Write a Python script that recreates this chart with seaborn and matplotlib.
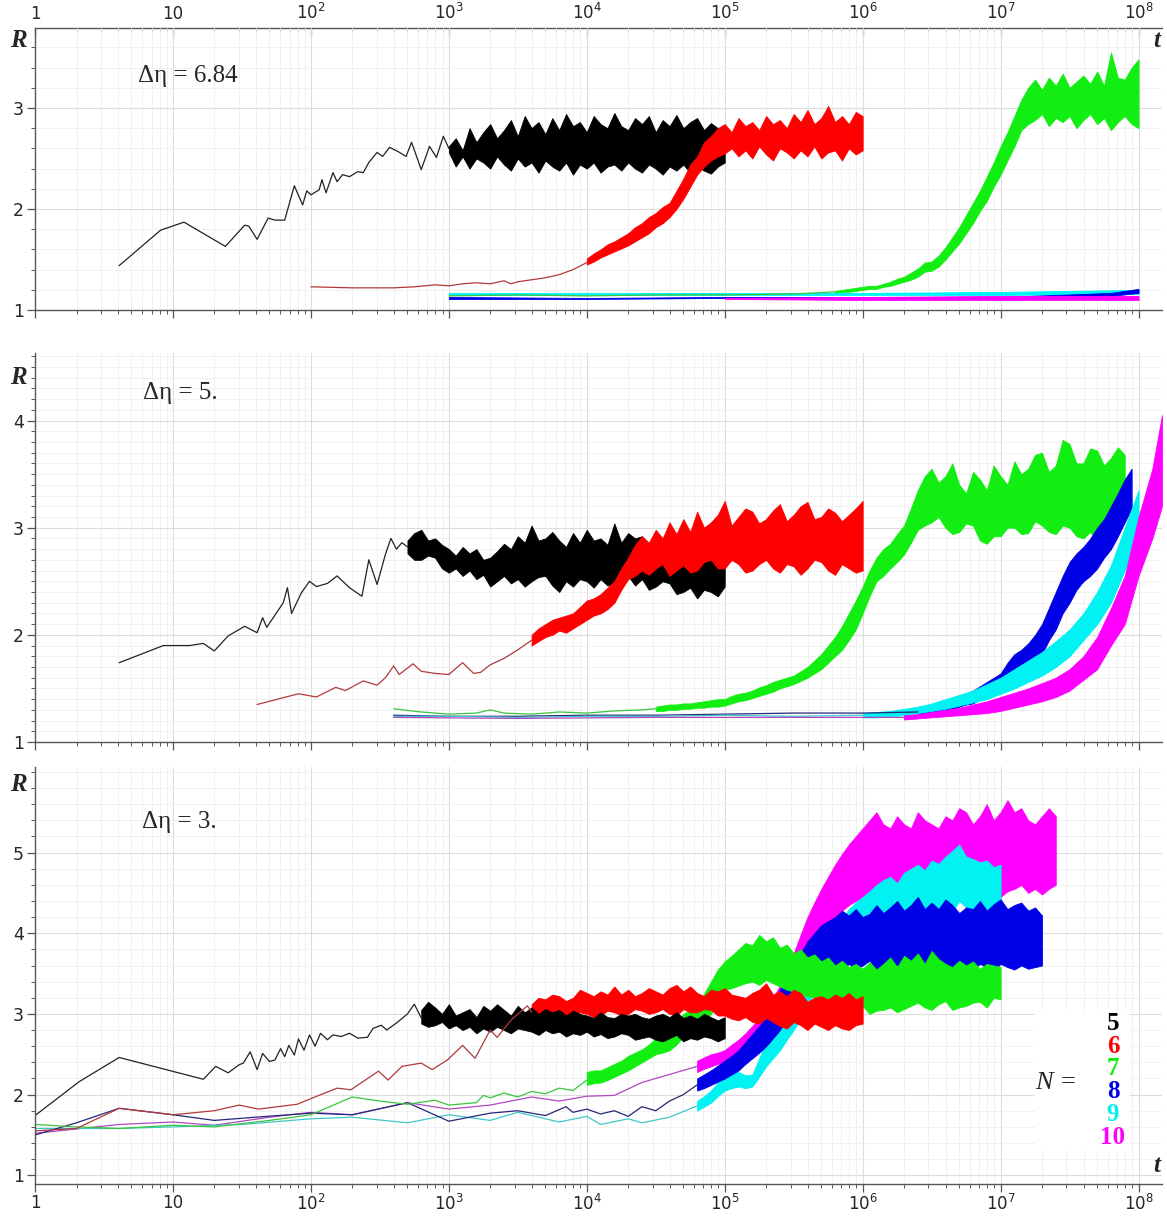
import numpy as np
import matplotlib.pyplot as plt
import seaborn as sns
from matplotlib.ticker import FixedLocator, MultipleLocator, FuncFormatter, NullFormatter
from matplotlib.patches import Rectangle

# -------------------------------------------------------------------
# Data: R(t) for N = 5..10, three values of delta-eta.
# Times are stored as log10(t). Early sparse parts are single lines,
# later noisy parts are stored as lower / upper envelopes.
# -------------------------------------------------------------------

# ---- panel 1 : delta eta = 6.84 ----
p1_black_line_lt = [0.61, 0.91, 1.08, 1.38, 1.52, 1.55, 1.61, 1.69, 1.74, 1.81, 1.88, 1.94, 1.97, 2.00,
                    2.06, 2.08, 2.11, 2.16, 2.19, 2.23, 2.28, 2.34, 2.38, 2.42, 2.48, 2.52, 2.57, 2.63,
                    2.69, 2.73, 2.80, 2.86, 2.91, 2.96, 3.00]
p1_black_line_r = [1.44, 1.79, 1.87, 1.63, 1.84, 1.83, 1.70, 1.91, 1.89, 1.89, 2.23, 2.04, 2.18, 2.14,
                   2.19, 2.29, 2.16, 2.36, 2.27, 2.34, 2.32, 2.37, 2.36, 2.46, 2.56, 2.52, 2.61, 2.57,
                   2.52, 2.66, 2.39, 2.62, 2.51, 2.72, 2.60]
p1_black_band_lt = [3.00, 3.05, 3.10, 3.15, 3.20, 3.25, 3.30, 3.35, 3.40, 3.45, 3.50, 3.55, 3.60, 3.65,
                    3.70, 3.75, 3.80, 3.85, 3.90, 3.95, 4.00, 4.05, 4.10, 4.15, 4.20, 4.25, 4.30, 4.35,
                    4.40, 4.45, 4.50, 4.55, 4.60, 4.65, 4.70, 4.75, 4.80, 4.85, 4.90, 4.95, 5.00]
p1_black_lo = [2.56, 2.42, 2.52, 2.40, 2.50, 2.46, 2.40, 2.52, 2.44, 2.38, 2.50, 2.42, 2.46, 2.36, 2.48,
               2.42, 2.38, 2.46, 2.34, 2.44, 2.40, 2.46, 2.36, 2.42, 2.44, 2.38, 2.46, 2.40, 2.36, 2.44,
               2.40, 2.34, 2.42, 2.38, 2.44, 2.36, 2.42, 2.38, 2.35, 2.42, 2.46]
p1_black_hi = [2.62, 2.70, 2.58, 2.80, 2.66, 2.76, 2.84, 2.70, 2.78, 2.88, 2.72, 2.92, 2.80, 2.86, 2.74,
               2.90, 2.78, 2.94, 2.82, 2.86, 2.76, 2.92, 2.84, 2.80, 2.95, 2.82, 2.78, 2.90, 2.84, 2.92,
               2.76, 2.88, 2.82, 2.93, 2.80, 2.86, 2.90, 2.78, 2.85, 2.80, 2.74]

p1_red_line_lt = [2.00, 2.30, 2.60, 2.75, 2.90, 3.00, 3.10, 3.20, 3.30, 3.40, 3.45, 3.50, 3.60, 3.70,
                  3.80, 3.90, 4.00]
p1_red_line_r = [1.23, 1.22, 1.22, 1.23, 1.25, 1.24, 1.26, 1.27, 1.26, 1.29, 1.26, 1.28, 1.30, 1.32,
                 1.35, 1.40, 1.47]
p1_red_band_lt = [4.00, 4.05, 4.10, 4.15, 4.20, 4.25, 4.30, 4.35, 4.40, 4.45, 4.50, 4.55, 4.60, 4.65,
                  4.70, 4.75, 4.80, 4.85, 4.90, 4.95, 5.00, 5.05, 5.10, 5.15, 5.20, 5.25, 5.30, 5.35,
                  5.40, 5.45, 5.50, 5.55, 5.60, 5.65, 5.70, 5.75, 5.80, 5.85, 5.90, 5.95, 6.00]
p1_red_lo = [1.45, 1.48, 1.52, 1.55, 1.58, 1.61, 1.64, 1.68, 1.72, 1.76, 1.82, 1.86, 1.92, 2.00, 2.10,
             2.22, 2.34, 2.42, 2.48, 2.52, 2.55, 2.60, 2.52, 2.58, 2.50, 2.62, 2.54, 2.48, 2.60, 2.56,
             2.50, 2.58, 2.52, 2.62, 2.50, 2.56, 2.58, 2.48, 2.60, 2.54, 2.58]
p1_red_hi = [1.51, 1.56, 1.60, 1.65, 1.68, 1.72, 1.76, 1.82, 1.86, 1.92, 1.96, 2.02, 2.06, 2.18, 2.30,
             2.44, 2.52, 2.66, 2.72, 2.80, 2.84, 2.76, 2.90, 2.82, 2.86, 2.78, 2.92, 2.84, 2.88, 2.80,
             2.94, 2.86, 2.98, 2.84, 2.90, 3.02, 2.86, 2.92, 2.84, 2.96, 2.92]

p1_green_line_lt = [3.0, 3.5, 4.0, 4.5, 5.0, 5.5, 5.8]
p1_green_line_r = [1.14, 1.15, 1.14, 1.15, 1.15, 1.16, 1.18]
p1_green_band_lt = [5.80, 5.85, 5.90, 5.95, 6.00, 6.05, 6.10, 6.15, 6.20, 6.25, 6.30, 6.35, 6.40, 6.45,
                    6.50, 6.55, 6.60, 6.65, 6.70, 6.75, 6.80, 6.85, 6.90, 6.95, 7.00, 7.05, 7.10, 7.15,
                    7.20, 7.25, 7.30, 7.35, 7.40, 7.45, 7.50, 7.55, 7.60, 7.65, 7.70, 7.75, 7.80, 7.85,
                    7.90, 7.95, 8.00]
p1_green_lo = [1.17, 1.18, 1.18, 1.19, 1.20, 1.21, 1.21, 1.23, 1.24, 1.26, 1.28, 1.30, 1.33, 1.38, 1.39,
               1.43, 1.50, 1.58, 1.66, 1.76, 1.86, 1.98, 2.08, 2.22, 2.34, 2.48, 2.62, 2.78, 2.84,
               2.88, 2.94, 2.82, 2.90, 2.86, 2.92, 2.80, 2.88, 2.94, 2.84, 2.90, 2.78, 2.86, 2.92, 2.84,
               2.80]
p1_green_hi = [1.19, 1.20, 1.21, 1.22, 1.23, 1.24, 1.24, 1.26, 1.28, 1.31, 1.33, 1.37, 1.41, 1.47, 1.48,
               1.54, 1.62, 1.72, 1.82, 1.94, 2.06, 2.18, 2.32, 2.46, 2.62, 2.76, 2.92, 3.08, 3.20,
               3.28, 3.18, 3.30, 3.22, 3.34, 3.20, 3.26, 3.32, 3.24, 3.36, 3.22, 3.55, 3.30, 3.28, 3.40,
               3.48]

p1_blue_band_lt = [3.0, 4.0, 5.0, 6.0, 7.0, 7.8, 8.0]
p1_blue_lo = [1.11, 1.11, 1.12, 1.11, 1.11, 1.14, 1.17]
p1_blue_hi = [1.13, 1.12, 1.13, 1.13, 1.13, 1.17, 1.21]

p1_cyan_band_lt = [3.0, 4.0, 5.0, 6.0, 7.0, 8.0]
p1_cyan_lo = [1.15, 1.15, 1.15, 1.15, 1.15, 1.16]
p1_cyan_hi = [1.17, 1.17, 1.17, 1.17, 1.18, 1.20]

p1_magenta_band_lt = [5.0, 6.0, 7.0, 8.0]
p1_magenta_lo = [1.11, 1.10, 1.10, 1.10]
p1_magenta_hi = [1.12, 1.13, 1.14, 1.14]

# ---- panel 2 : delta eta = 5 ----
p2_black_line_lt = [0.61, 0.93, 1.12, 1.22, 1.30, 1.40, 1.52, 1.61, 1.65, 1.68, 1.80, 1.83, 1.86, 1.93,
                    1.99, 2.04, 2.12, 2.19, 2.28, 2.37, 2.42, 2.48, 2.54, 2.58, 2.62, 2.66, 2.70]
p2_black_line_r = [1.74, 1.90, 1.90, 1.92, 1.85, 1.99, 2.08, 2.02, 2.16, 2.07, 2.30, 2.44, 2.20, 2.39,
                   2.50, 2.45, 2.48, 2.55, 2.44, 2.36, 2.70, 2.47, 2.75, 2.90, 2.80, 2.86, 2.82]
p2_black_band_lt = [2.70, 2.75, 2.80, 2.85, 2.90, 2.95, 3.00, 3.05, 3.10, 3.15, 3.20, 3.25, 3.30, 3.35,
                    3.40, 3.45, 3.50, 3.55, 3.60, 3.65, 3.70, 3.75, 3.80, 3.85, 3.90, 3.95, 4.00, 4.05,
                    4.10, 4.15, 4.20, 4.25, 4.30, 4.35, 4.40, 4.45, 4.50, 4.55, 4.60, 4.65, 4.70, 4.75,
                    4.80, 4.85, 4.90, 4.95, 5.00]
p2_black_lo = [2.76, 2.70, 2.70, 2.74, 2.72, 2.62, 2.58, 2.62, 2.55, 2.60, 2.52, 2.56, 2.45, 2.50, 2.55,
               2.48, 2.52, 2.45, 2.50, 2.54, 2.55, 2.46, 2.40, 2.50, 2.45, 2.52, 2.50, 2.44, 2.52, 2.46,
               2.48, 2.52, 2.55, 2.46, 2.52, 2.42, 2.45, 2.50, 2.48, 2.38, 2.40, 2.44, 2.34, 2.42, 2.40,
               2.36, 2.45]
p2_black_hi = [2.88, 2.95, 2.98, 2.88, 2.90, 2.84, 2.80, 2.74, 2.82, 2.76, 2.80, 2.70, 2.72, 2.78, 2.85,
               2.80, 2.92, 2.86, 3.02, 2.88, 2.90, 2.96, 2.88, 2.82, 2.95, 2.86, 2.98, 2.88, 2.90, 2.84,
               3.04, 2.86, 2.95, 2.90, 2.92, 2.84, 2.88, 2.80, 2.85, 2.90, 2.80, 2.76, 2.78, 2.84, 2.75,
               2.70, 2.72]

p2_red_line_lt = [1.61, 1.91, 2.04, 2.18, 2.25, 2.38, 2.48, 2.54, 2.60, 2.64, 2.74, 2.80, 2.90, 3.00,
                  3.10, 3.18, 3.23, 3.30, 3.40, 3.50, 3.60]
p2_red_line_r = [1.35, 1.45, 1.42, 1.51, 1.48, 1.57, 1.53, 1.60, 1.71, 1.63, 1.73, 1.66, 1.64, 1.63,
                 1.74, 1.64, 1.65, 1.72, 1.78, 1.86, 1.95]
p2_red_band_lt = [3.60, 3.65, 3.70, 3.75, 3.80, 3.85, 3.90, 3.95, 4.00, 4.05, 4.10, 4.15, 4.20, 4.25,
                  4.30, 4.35, 4.40, 4.45, 4.50, 4.55, 4.60, 4.65, 4.70, 4.75, 4.80, 4.85, 4.90, 4.95,
                  5.00, 5.05, 5.10, 5.15, 5.20, 5.25, 5.30, 5.35, 5.40, 5.45, 5.50, 5.55, 5.60, 5.65,
                  5.70, 5.75, 5.80, 5.85, 5.90, 5.95, 6.00]
p2_red_lo = [1.90, 1.94, 1.98, 2.00, 2.04, 2.02, 2.06, 2.10, 2.14, 2.18, 2.20, 2.24, 2.30, 2.42, 2.52,
             2.55, 2.60, 2.56, 2.62, 2.66, 2.55, 2.60, 2.65, 2.58, 2.60, 2.68, 2.70, 2.62, 2.62, 2.70,
             2.66, 2.58, 2.60, 2.66, 2.70, 2.62, 2.58, 2.66, 2.64, 2.56, 2.62, 2.70, 2.68, 2.60, 2.56,
             2.66, 2.62, 2.58, 2.60]
p2_red_hi = [2.00, 2.06, 2.10, 2.14, 2.16, 2.18, 2.20, 2.26, 2.32, 2.34, 2.38, 2.44, 2.50, 2.62, 2.72,
             2.84, 2.92, 2.86, 2.98, 2.90, 3.05, 2.94, 3.08, 2.96, 3.15, 3.00, 3.05, 3.12, 3.25, 3.02,
             3.10, 3.18, 3.15, 3.04, 3.08, 3.16, 3.22, 3.06, 3.12, 3.20, 3.24, 3.08, 3.10, 3.18, 3.14,
             3.06, 3.12, 3.18, 3.25]

p2_green_line_lt = [2.60, 2.80, 3.00, 3.20, 3.30, 3.40, 3.60, 3.80, 4.00, 4.20, 4.40, 4.50]
p2_green_line_r = [1.31, 1.28, 1.26, 1.27, 1.30, 1.27, 1.26, 1.28, 1.27, 1.29, 1.30, 1.31]
p2_green_band_lt = [4.50, 4.55, 4.60, 4.65, 4.70, 4.75, 4.80, 4.85, 4.90, 4.95, 5.00, 5.05, 5.10, 5.15,
                    5.20, 5.25, 5.30, 5.35, 5.40, 5.45, 5.50, 5.55, 5.60, 5.65, 5.70, 5.75, 5.80, 5.85,
                    5.90, 5.95, 6.00, 6.05, 6.10, 6.15, 6.20, 6.25, 6.30, 6.35, 6.40, 6.45, 6.50, 6.55,
                    6.60, 6.65, 6.70, 6.75, 6.80, 6.85, 6.90, 6.95, 7.00, 7.05, 7.10, 7.15, 7.20, 7.25,
                    7.30, 7.35, 7.40, 7.45, 7.50, 7.55, 7.60, 7.65, 7.70, 7.75, 7.80, 7.85, 7.90]
p2_green_lo = [1.29, 1.29, 1.30, 1.30, 1.31, 1.31, 1.32, 1.32, 1.33, 1.33, 1.34, 1.36, 1.38, 1.39, 1.41,
               1.43, 1.45, 1.47, 1.50, 1.52, 1.54, 1.57, 1.60, 1.64, 1.68, 1.74, 1.80, 1.86, 1.95, 2.05,
               2.20, 2.36, 2.50, 2.55, 2.62, 2.68, 2.75, 2.86, 2.98, 3.02,
               3.05, 3.10, 3.00, 2.94, 2.96, 3.04, 3.02, 2.88, 2.85, 2.92, 2.92, 3.00, 3.00, 2.94, 2.95,
               3.06, 3.02, 2.96, 2.94, 3.02, 3.00, 2.92, 2.90, 2.96, 2.88, 2.98, 2.98, 3.10, 3.05]
p2_green_hi = [1.33, 1.34, 1.35, 1.35, 1.36, 1.36, 1.37, 1.38, 1.39, 1.40, 1.40, 1.43, 1.45, 1.46, 1.48,
               1.51, 1.53, 1.56, 1.58, 1.60, 1.62, 1.66, 1.70, 1.76, 1.82, 1.90, 1.98, 2.08, 2.20, 2.32,
               2.45, 2.60, 2.72, 2.80, 2.85, 2.94, 3.02, 3.18, 3.35, 3.48,
               3.55, 3.42, 3.48, 3.60, 3.40, 3.32, 3.52, 3.45, 3.35, 3.58, 3.48, 3.40, 3.62, 3.50, 3.55,
               3.68, 3.70, 3.52, 3.58, 3.82, 3.78, 3.60, 3.60, 3.74, 3.72, 3.58, 3.65, 3.75, 3.68]

p2_blue_line_lt = [2.60, 3.00, 3.50, 4.00, 4.50, 5.00, 5.50, 6.00, 6.40]
p2_blue_line_r = [1.25, 1.24, 1.24, 1.25, 1.25, 1.26, 1.27, 1.27, 1.28]
p2_blue_band_lt = [6.40, 6.45, 6.50, 6.55, 6.60, 6.65, 6.70, 6.75, 6.80, 6.85, 6.90, 6.95, 7.00, 7.05,
                   7.10, 7.15, 7.20, 7.25, 7.30, 7.35, 7.40, 7.45, 7.50, 7.55, 7.60, 7.65, 7.70, 7.75,
                   7.80, 7.85, 7.90, 7.95]
p2_blue_lo = [1.26, 1.26, 1.27, 1.28, 1.29, 1.31, 1.33, 1.35, 1.36, 1.40, 1.42, 1.45, 1.48, 1.56, 1.62,
              1.64, 1.70, 1.74, 1.82, 1.95, 2.05, 2.20, 2.30, 2.42, 2.50, 2.55, 2.62, 2.72, 2.80, 2.92,
              3.05, 3.18]
p2_blue_hi = [1.30, 1.31, 1.32, 1.34, 1.36, 1.39, 1.42, 1.45, 1.48, 1.52, 1.56, 1.60, 1.64, 1.74, 1.82,
              1.86, 1.92, 2.00, 2.10, 2.25, 2.40, 2.55, 2.68, 2.76, 2.82, 2.90, 3.00, 3.08, 3.20, 3.32,
              3.45, 3.55]

p2_cyan_line_lt = [2.60, 3.00, 3.50, 4.00, 4.50, 5.00, 5.50, 6.00]
p2_cyan_line_r = [1.24, 1.24, 1.23, 1.24, 1.24, 1.25, 1.24, 1.25]
p2_cyan_band_lt = [6.0, 6.1, 6.2, 6.3, 6.4, 6.5, 6.6, 6.7, 6.8, 6.9, 7.0, 7.1, 7.2, 7.3, 7.4, 7.5, 7.6,
                   7.7, 7.8, 7.9, 8.0]
p2_cyan_lo = [1.23, 1.23, 1.24, 1.25, 1.27, 1.29, 1.31, 1.34, 1.37, 1.40, 1.45, 1.50, 1.56, 1.62, 1.70,
              1.80, 1.95, 2.10, 2.30, 2.60, 2.95]
p2_cyan_hi = [1.27, 1.28, 1.29, 1.31, 1.33, 1.36, 1.40, 1.44, 1.48, 1.54, 1.60, 1.68, 1.76, 1.84, 1.94,
              2.05, 2.20, 2.40, 2.65, 3.00, 3.35]

p2_magenta_line_lt = [2.60, 3.50, 4.50, 5.50, 6.30]
p2_magenta_line_r = [1.23, 1.22, 1.23, 1.23, 1.23]
p2_magenta_band_lt = [6.3, 6.4, 6.5, 6.6, 6.7, 6.8, 6.9, 7.0, 7.1, 7.2, 7.3, 7.4, 7.5, 7.6, 7.7, 7.8,
                      7.9, 8.0, 8.1, 8.17]
p2_magenta_lo = [1.21, 1.22, 1.23, 1.24, 1.25, 1.26, 1.27, 1.29, 1.32, 1.35, 1.38, 1.42, 1.48, 1.58,
                 1.68, 1.90, 2.10, 2.55, 2.90, 3.20]
p2_magenta_hi = [1.25, 1.26, 1.28, 1.30, 1.32, 1.35, 1.38, 1.42, 1.46, 1.50, 1.55, 1.60, 1.68, 1.80,
                 1.98, 2.25, 2.55, 3.10, 3.55, 4.05]

# ---- panel 3 : delta eta = 3 ----
p3_black_line_lt = [0.00, 0.32, 0.61, 1.22, 1.31, 1.40, 1.48, 1.51, 1.56, 1.61, 1.65, 1.70, 1.74, 1.78,
                    1.81, 1.84, 1.88, 1.91, 1.95, 1.99, 2.03, 2.07, 2.12, 2.16, 2.22, 2.28, 2.34, 2.41,
                    2.45, 2.51, 2.55, 2.63, 2.70, 2.75, 2.80]
p3_black_line_r = [1.74, 2.16, 2.46, 2.19, 2.35, 2.27, 2.37, 2.39, 2.53, 2.31, 2.51, 2.41, 2.43, 2.57,
                   2.47, 2.61, 2.49, 2.69, 2.55, 2.74, 2.60, 2.76, 2.68, 2.74, 2.72, 2.76, 2.70, 2.71,
                   2.82, 2.86, 2.80, 2.90, 3.00, 3.12, 2.95]
p3_black_band_lt = [2.80, 2.85, 2.90, 2.95, 3.00, 3.05, 3.10, 3.15, 3.20, 3.25, 3.30, 3.35, 3.40, 3.45,
                    3.50, 3.55, 3.60, 3.65, 3.70, 3.75, 3.80, 3.85, 3.90, 3.95, 4.00, 4.05, 4.10, 4.15,
                    4.20, 4.25, 4.30, 4.35, 4.40, 4.45, 4.50, 4.55, 4.60, 4.65, 4.70, 4.75, 4.80, 4.85,
                    4.90, 4.95, 5.00]
p3_black_lo = [2.88, 2.84, 2.86, 2.90, 2.82, 2.86, 2.80, 2.84, 2.76, 2.82, 2.78, 2.84, 2.80, 2.76, 2.82,
               2.80, 2.78, 2.74, 2.80, 2.76, 2.78, 2.72, 2.76, 2.74, 2.78, 2.72, 2.75, 2.70, 2.72, 2.76,
               2.74, 2.68, 2.70, 2.72, 2.68, 2.66, 2.70, 2.74, 2.66, 2.70, 2.68, 2.72, 2.70, 2.66, 2.70]
p3_black_hi = [3.05, 3.15, 3.08, 3.00, 3.12, 2.98, 3.02, 3.06, 2.96, 3.10, 3.04, 3.12, 3.05, 2.98, 3.10,
               3.02, 3.08, 3.00, 3.06, 3.02, 3.05, 2.98, 3.04, 3.00, 2.98, 2.95, 3.02, 2.96, 2.95, 3.00,
               2.98, 3.00, 2.96, 2.94, 2.98, 3.00, 2.96, 3.02, 2.95, 2.98, 2.94, 3.00, 2.96, 2.92, 2.96]

p3_red_line_lt = [0.00, 0.30, 0.61, 1.00, 1.30, 1.48, 1.62, 1.90, 2.00, 2.19, 2.29, 2.49, 2.56, 2.66,
                  2.80, 2.88, 2.99, 3.10, 3.19, 3.30, 3.35, 3.46, 3.57, 3.60]
p3_red_line_r = [1.55, 1.58, 1.83, 1.75, 1.80, 1.87, 1.82, 1.88, 1.95, 2.08, 2.06, 2.29, 2.18, 2.35,
                 2.39, 2.31, 2.43, 2.61, 2.45, 2.80, 2.71, 2.94, 3.10, 3.02]
p3_red_band_lt = [3.60, 3.65, 3.70, 3.75, 3.80, 3.85, 3.90, 3.95, 4.00, 4.05, 4.10, 4.15, 4.20, 4.25,
                  4.30, 4.35, 4.40, 4.45, 4.50, 4.55, 4.60, 4.65, 4.70, 4.75, 4.80, 4.85, 4.90, 4.95,
                  5.00, 5.05, 5.10, 5.15, 5.20, 5.25, 5.30, 5.35, 5.40, 5.45, 5.50, 5.55, 5.60, 5.65,
                  5.70, 5.75, 5.80, 5.85, 5.90, 5.95, 6.00]
p3_red_lo = [2.92, 2.96, 2.90, 2.95, 2.95, 2.98, 2.98, 3.02, 3.00, 2.96, 2.98, 3.04, 3.02, 2.98, 3.00,
             3.06, 3.04, 3.00, 3.02, 3.06, 3.00, 2.98, 3.06, 3.02, 3.02, 3.06, 3.05, 2.98, 2.98, 2.94,
             2.92, 2.96, 2.90, 2.88, 2.95, 2.90, 2.85, 2.82, 2.90, 2.86, 2.80, 2.88, 2.84, 2.80, 2.86,
             2.82, 2.80, 2.86, 2.88]
p3_red_hi = [3.12, 3.20, 3.18, 3.24, 3.22, 3.16, 3.20, 3.30, 3.26, 3.22, 3.28, 3.24, 3.34, 3.24, 3.30,
             3.22, 3.26, 3.32, 3.28, 3.24, 3.32, 3.36, 3.28, 3.34, 3.26, 3.22, 3.30, 3.28, 3.32, 3.24,
             3.22, 3.20, 3.26, 3.30, 3.38, 3.24, 3.28, 3.22, 3.30, 3.26, 3.15, 3.20, 3.22, 3.18, 3.24,
             3.20, 3.26, 3.18, 3.22]

p3_green_line_lt = [0.00, 0.30, 0.61, 1.00, 1.30, 1.70, 2.00, 2.30, 2.50, 2.70, 2.90, 3.00, 3.20, 3.25,
                    3.30, 3.40, 3.50, 3.60, 3.70, 3.80, 3.90, 4.00]
p3_green_line_r = [1.63, 1.60, 1.58, 1.62, 1.60, 1.68, 1.75, 1.97, 1.92, 1.88, 1.93, 1.87, 1.90, 1.99,
                   1.96, 2.02, 1.97, 2.04, 2.01, 2.08, 2.05, 2.18]
p3_green_band_lt = [4.00, 4.05, 4.10, 4.15, 4.20, 4.25, 4.30, 4.35, 4.40, 4.45, 4.50, 4.55, 4.60, 4.65,
                    4.70, 4.75, 4.80, 4.85, 4.90, 4.95, 5.00, 5.05, 5.10, 5.15, 5.20, 5.25, 5.30, 5.35,
                    5.40, 5.45, 5.50, 5.55, 5.60, 5.65, 5.70, 5.75, 5.80, 5.85, 5.90, 5.95, 6.00, 6.05,
                    6.10, 6.15, 6.20, 6.25, 6.30, 6.35, 6.40, 6.45, 6.50, 6.55, 6.60, 6.65, 6.70, 6.75,
                    6.80, 6.85, 6.90, 6.95, 7.00]
p3_green_lo = [2.12, 2.14, 2.15, 2.18, 2.22, 2.26, 2.30, 2.35, 2.40, 2.45, 2.50, 2.52, 2.55, 2.62, 2.72,
               2.78, 2.85, 2.92, 3.00, 3.15, 3.30, 3.32, 3.35,
               3.38, 3.40, 3.36, 3.42, 3.38, 3.34, 3.30, 3.28, 3.25, 3.22, 3.20, 3.16, 3.10, 3.14, 3.05,
               3.08, 3.05, 3.10, 3.00, 3.04, 3.05, 3.08, 3.02, 3.06, 3.10, 3.14, 3.08, 3.05, 3.12, 3.16,
               3.05, 3.08, 3.10, 3.14, 3.15, 3.08, 3.20, 3.18]
p3_green_hi = [2.28, 2.30, 2.30, 2.34, 2.38, 2.42, 2.48, 2.52, 2.56, 2.62, 2.70, 2.75, 2.80, 2.90, 3.00,
               3.05, 3.10, 3.25, 3.40, 3.55, 3.65, 3.72, 3.80,
               3.88, 3.85, 3.98, 3.90, 3.95, 3.82, 3.86, 3.75, 3.80, 3.70, 3.74, 3.65, 3.70, 3.60, 3.66,
               3.58, 3.62, 3.56, 3.64, 3.55, 3.62, 3.70, 3.58, 3.72, 3.66, 3.75, 3.62, 3.78, 3.68, 3.62,
               3.58, 3.66, 3.60, 3.65, 3.56, 3.62, 3.60, 3.58]

p3_blue_line_lt = [0.00, 0.30, 0.61, 1.00, 1.30, 1.60, 2.00, 2.30, 2.70, 3.00, 3.30, 3.50, 3.70, 3.85,
                   3.90, 4.00, 4.10, 4.20, 4.30, 4.40, 4.50, 4.60, 4.70, 4.80]
p3_blue_line_r = [1.50, 1.65, 1.83, 1.75, 1.68, 1.72, 1.77, 1.75, 1.90, 1.67, 1.77, 1.80, 1.74, 1.85,
                  1.78, 1.82, 1.76, 1.80, 1.73, 1.85, 1.80, 1.92, 2.00, 2.12]
p3_blue_band_lt = [4.80, 4.85, 4.90, 4.95, 5.00, 5.05, 5.10, 5.15, 5.20, 5.25, 5.30, 5.35, 5.40, 5.45,
                   5.50, 5.55, 5.60, 5.65, 5.70, 5.75, 5.80, 5.85, 5.90, 5.95, 6.00, 6.05, 6.10, 6.15,
                   6.20, 6.25, 6.30, 6.35, 6.40, 6.45, 6.50, 6.55, 6.60, 6.65, 6.70, 6.75, 6.80, 6.85,
                   6.90, 6.95, 7.00, 7.05, 7.10, 7.15, 7.20, 7.25, 7.30]
p3_blue_lo = [2.05, 2.08, 2.12, 2.16, 2.20, 2.25, 2.30, 2.38, 2.45, 2.52, 2.60, 2.70, 2.80, 2.95, 3.10,
              3.25, 3.40, 3.48, 3.55, 3.58,
              3.60, 3.55, 3.62, 3.55, 3.60, 3.66, 3.55, 3.58, 3.65, 3.60, 3.54, 3.62, 3.55, 3.60, 3.66,
              3.58, 3.62, 3.56, 3.65, 3.60, 3.55, 3.62, 3.58, 3.54, 3.62, 3.58, 3.55, 3.60, 3.56, 3.58,
              3.60]
p3_blue_hi = [2.20, 2.25, 2.30, 2.36, 2.42, 2.48, 2.55, 2.65, 2.75, 2.85, 2.95, 3.10, 3.30, 3.45, 3.60,
              3.75, 3.90, 4.00, 4.10, 4.15,
              4.20, 4.28, 4.22, 4.30, 4.20, 4.24, 4.35, 4.25, 4.32, 4.40, 4.28, 4.35, 4.45, 4.30, 4.38,
              4.30, 4.42, 4.35, 4.25, 4.32, 4.30, 4.40, 4.28, 4.36, 4.42, 4.30, 4.35, 4.38, 4.28, 4.32,
              4.22]

p3_cyan_line_lt = [0.00, 0.61, 1.00, 1.50, 2.00, 2.30, 2.70, 3.00, 3.30, 3.50, 3.80, 4.00, 4.10, 4.30,
                   4.40, 4.60, 4.80]
p3_cyan_line_r = [1.58, 1.58, 1.60, 1.63, 1.70, 1.72, 1.65, 1.75, 1.68, 1.78, 1.66, 1.73, 1.63, 1.70,
                  1.65, 1.72, 1.86]
p3_cyan_band_lt = [4.80, 4.85, 4.90, 4.95, 5.00, 5.05, 5.10, 5.15, 5.20, 5.25, 5.30, 5.35, 5.40, 5.45,
                   5.50, 5.55, 5.60, 5.65, 5.70, 5.75, 5.80, 5.85, 5.90, 5.95, 6.00, 6.05, 6.10, 6.15,
                   6.20, 6.25, 6.30, 6.35, 6.40, 6.45, 6.50, 6.55, 6.60, 6.65, 6.70, 6.75, 6.80, 6.85,
                   6.90, 6.95, 7.00]
p3_cyan_lo = [1.80, 1.85, 1.90, 1.98, 2.05, 2.08, 2.10, 2.08, 2.10, 2.22, 2.35, 2.45, 2.55, 2.68, 2.80,
              2.95, 3.10, 3.28, 3.45, 3.58, 3.70, 3.78, 3.85, 3.92,
              4.00, 4.08, 4.10, 4.02, 4.05, 4.12, 4.15, 4.20, 4.14, 4.20, 4.25, 4.22, 4.30, 4.26, 4.40,
              4.32, 4.30, 4.22, 4.25, 4.28, 4.30]
p3_cyan_hi = [1.92, 1.98, 2.05, 2.15, 2.25, 2.28, 2.28, 2.24, 2.25, 2.45, 2.65, 2.78, 2.90, 3.02, 3.15,
              3.32, 3.50, 3.65, 3.80, 3.92, 4.05, 4.18, 4.30, 4.38,
              4.45, 4.52, 4.60, 4.66, 4.70, 4.62, 4.75, 4.80, 4.85, 4.78, 4.90, 4.86, 4.95, 5.02, 5.10,
              4.95, 4.92, 4.88, 4.90, 4.82, 4.85]

p3_magenta_line_lt = [0.00, 0.61, 1.00, 1.30, 1.70, 2.00, 2.30, 2.70, 3.00, 3.30, 3.60, 3.80, 4.00, 4.20,
                      4.40, 4.60, 4.80]
p3_magenta_line_r = [1.52, 1.63, 1.66, 1.62, 1.72, 1.78, 1.75, 1.90, 1.82, 1.87, 1.97, 1.92, 1.98, 1.99,
                     2.15, 2.25, 2.35]
p3_magenta_band_lt = [4.80, 4.85, 4.90, 4.95, 5.00, 5.05, 5.10, 5.15, 5.20, 5.25, 5.30, 5.35, 5.40,
                      5.45, 5.50, 5.55, 5.60, 5.65, 5.70, 5.75, 5.80, 5.85, 5.90, 5.95, 6.00, 6.05,
                      6.10, 6.15, 6.20, 6.25, 6.30, 6.35, 6.40, 6.45, 6.50, 6.55, 6.60, 6.65, 6.70,
                      6.75, 6.80, 6.85, 6.90, 6.95, 7.00, 7.05, 7.10, 7.15, 7.20, 7.25, 7.30, 7.35,
                      7.40]
p3_magenta_lo = [2.28, 2.32, 2.35, 2.38, 2.40, 2.45, 2.50, 2.56, 2.62, 2.70, 2.78, 2.88, 3.00, 3.18,
                 3.35, 3.52, 3.70, 3.82, 3.95, 4.08, 4.20, 4.28, 4.35, 4.40, 4.45,
                 4.50, 4.45, 4.40, 4.48, 4.52, 4.45, 4.55, 4.50, 4.40, 4.46, 4.50, 4.55, 4.48, 4.55,
                 4.60, 4.45, 4.50, 4.55, 4.48, 4.45, 4.52, 4.55, 4.60, 4.50, 4.55, 4.48, 4.55, 4.60]
p3_magenta_hi = [2.42, 2.46, 2.50, 2.52, 2.55, 2.62, 2.68, 2.76, 2.85, 2.95, 3.05, 3.20, 3.35, 3.55,
                 3.75, 3.98, 4.20, 4.38, 4.55, 4.70, 4.85, 4.98, 5.10, 5.20, 5.30,
                 5.40, 5.50, 5.35, 5.30, 5.45, 5.35, 5.30, 5.50, 5.40, 5.35, 5.30, 5.45, 5.40, 5.55,
                 5.50, 5.35, 5.45, 5.60, 5.40, 5.50, 5.65, 5.50, 5.55, 5.40, 5.35, 5.45, 5.55, 5.45]

n_values = ['5', '6', '7', '8', '9', '10']
n_keys = ['black', 'red', 'green', 'blue', 'cyan', 'magenta']
panel_labels = ['\u0394\u03b7 = 6.84', '\u0394\u03b7 = 5.', '\u0394\u03b7 = 3.']
y_major_ticks = [[1, 2, 3], [1, 2, 3, 4], [1, 2, 3, 4, 5]]
x_decades = [1, 10, 100, 1e3, 1e4, 1e5, 1e6, 1e7, 1e8]

# colours: thick noisy bands, and the thin early lines (look softer in the original)
band_colors = {'black': '#000000', 'red': '#ff0000', 'green': '#12ee12',
               'blue': '#0000e6', 'cyan': '#00f2f2', 'magenta': '#ff00ff'}
thin_colors = {'black': '#222222', 'red': '#b03a3a', 'green': '#3cc43c',
               'blue': '#26267a', 'cyan': '#40c8c8', 'magenta': '#b048c0'}

panels = [
    [
        ('black', p1_black_line_lt, p1_black_line_r, p1_black_band_lt, p1_black_lo, p1_black_hi),
        ('red', p1_red_line_lt, p1_red_line_r, p1_red_band_lt, p1_red_lo, p1_red_hi),
        ('green', p1_green_line_lt, p1_green_line_r, p1_green_band_lt, p1_green_lo, p1_green_hi),
        ('cyan', [], [], p1_cyan_band_lt, p1_cyan_lo, p1_cyan_hi),
        ('blue', [], [], p1_blue_band_lt, p1_blue_lo, p1_blue_hi),
        ('magenta', [], [], p1_magenta_band_lt, p1_magenta_lo, p1_magenta_hi),
    ],
    [
        ('black', p2_black_line_lt, p2_black_line_r, p2_black_band_lt, p2_black_lo, p2_black_hi),
        ('red', p2_red_line_lt, p2_red_line_r, p2_red_band_lt, p2_red_lo, p2_red_hi),
        ('green', p2_green_line_lt, p2_green_line_r, p2_green_band_lt, p2_green_lo, p2_green_hi),
        ('blue', p2_blue_line_lt, p2_blue_line_r, p2_blue_band_lt, p2_blue_lo, p2_blue_hi),
        ('cyan', p2_cyan_line_lt, p2_cyan_line_r, p2_cyan_band_lt, p2_cyan_lo, p2_cyan_hi),
        ('magenta', p2_magenta_line_lt, p2_magenta_line_r, p2_magenta_band_lt, p2_magenta_lo, p2_magenta_hi),
    ],
    [
        ('magenta', p3_magenta_line_lt, p3_magenta_line_r, p3_magenta_band_lt, p3_magenta_lo, p3_magenta_hi),
        ('cyan', p3_cyan_line_lt, p3_cyan_line_r, p3_cyan_band_lt, p3_cyan_lo, p3_cyan_hi),
        ('blue', p3_blue_line_lt, p3_blue_line_r, p3_blue_band_lt, p3_blue_lo, p3_blue_hi),
        ('green', p3_green_line_lt, p3_green_line_r, p3_green_band_lt, p3_green_lo, p3_green_hi),
        ('red', p3_red_line_lt, p3_red_line_r, p3_red_band_lt, p3_red_lo, p3_red_hi),
        ('black', p3_black_line_lt, p3_black_line_r, p3_black_band_lt, p3_black_lo, p3_black_hi),
    ],
]

# -------------------------------------------------------------------
# Style
# -------------------------------------------------------------------
sns.set_theme(style="white")
plt.rcParams['font.family'] = ['DejaVu Sans']
plt.rcParams['mathtext.fontset'] = 'dejavusans'
SERIF = ['Liberation Serif', 'DejaVu Serif']
AX_COLOR = '#555555'

T_MAX = 10 ** 8.17
ylims = [(1.0, 3.79), (1.0, 4.63), (0.89, 6.06)]
y_minor = [0.2, 0.1, 0.2]
label_pos = [(0.091, 0.83), (0.096, 0.897), (0.095, 0.869)]
r_pos = [0.955, 0.938, 0.957]
rects = [[0.030, 0.745, 0.9657, 0.2319],
         [0.030, 0.3898, 0.9657, 0.3199],
         [0.030, 0.0262, 0.9657, 0.3430]]
x_minor = [d * m for d in x_decades for m in range(2, 10) if d * m < T_MAX]


def decade_label(v, pos):
    k = int(round(np.log10(v)))
    if k == 0:
        return '1'
    if k == 1:
        return '10'
    return r'$10^{%d}$' % k


def setup_xaxis(axis_owner, direction, pad=3):
    axis_owner.xaxis.set_major_locator(FixedLocator(x_decades))
    axis_owner.xaxis.set_minor_locator(FixedLocator(x_minor))
    axis_owner.xaxis.set_major_formatter(FuncFormatter(decade_label))
    axis_owner.xaxis.set_minor_formatter(NullFormatter())
    axis_owner.tick_params(axis='x', which='major', direction=direction, length=6, width=0.9,
                           color=AX_COLOR, labelsize=12, pad=pad)
    axis_owner.tick_params(axis='x', which='minor', direction=direction, length=3, width=0.7,
                           color=AX_COLOR)


def draw_series(ax, key, line_lt, line_r, band_lt, band_lo, band_hi):
    if line_lt:
        sns.lineplot(x=np.power(10.0, line_lt), y=line_r, ax=ax, color=thin_colors[key],
                     lw=0.9, estimator=None, sort=False, legend=False)
    n = min(len(band_lt), len(band_lo), len(band_hi))
    t = np.power(10.0, band_lt[:n])
    ax.fill_between(t, band_lo[:n], band_hi[:n], facecolor=band_colors[key],
                    edgecolor=band_colors[key], lw=0.6)


fig = plt.figure(figsize=(11.67, 12.16), dpi=100)

for i, series in enumerate(panels):
    ax = fig.add_axes(rects[i])
    ax.set_xscale('log')
    for key, line_lt, line_r, band_lt, band_lo, band_hi in series:
        draw_series(ax, key, line_lt, line_r, band_lt, band_lo, band_hi)

    ax.set_xlim(1, T_MAX)
    ax.set_ylim(*ylims[i])
    ax.set_xlabel('')
    ax.set_ylabel('')
    setup_xaxis(ax, 'out', pad=1)

    # grids
    ax.set_axisbelow(True)
    ax.yaxis.set_major_locator(FixedLocator(y_major_ticks[i]))
    ax.yaxis.set_minor_locator(MultipleLocator(y_minor[i]))
    ax.yaxis.set_major_formatter(FuncFormatter(lambda v, p: '%d' % round(v)))
    ax.grid(which='major', color='#dcdcdc', lw=0.8)
    ax.grid(which='minor', color='#efefef', lw=0.6)
    ax.tick_params(axis='y', which='major', direction='out', length=6, width=0.9,
                   color=AX_COLOR, labelsize=12.5, pad=2, left=True)
    ax.tick_params(axis='y', which='minor', direction='out', length=3, width=0.7,
                   color=AX_COLOR, left=True)

    for side in ['right', 'top']:
        ax.spines[side].set_visible(False)
    for side in ['left', 'bottom']:
        ax.spines[side].set_color(AX_COLOR)
        ax.spines[side].set_linewidth(1.0)

    ax.tick_params(axis='x', which='both', bottom=True, labelbottom=(i == 2))

    if i == 0:
        top = ax.secondary_xaxis('top')
        setup_xaxis(top, 'in', pad=4)
        top.spines['top'].set_color(AX_COLOR)
        top.spines['top'].set_linewidth(1.0)

    # texts
    ax.text(label_pos[i][0], label_pos[i][1], panel_labels[i], transform=ax.transAxes,
            family=SERIF, fontsize=18, ha='left', va='center')
    ax.text(-0.015, r_pos[i], 'R', transform=ax.transAxes, family=SERIF,
            fontstyle='italic', fontweight='bold', fontsize=18, ha='center', va='center')
    if i == 0:
        ax.text(0.9955, 0.955, 't', transform=ax.transAxes, family=SERIF,
                fontstyle='italic', fontweight='bold', fontsize=18, ha='center', va='center')
    if i == 2:
        ax.text(0.9955, 0.045, 't', transform=ax.transAxes, family=SERIF,
                fontstyle='italic', fontweight='bold', fontsize=18, ha='center', va='center')

        # N legend
        ax.add_patch(Rectangle((0.887, 0.081), 0.085, 0.333, transform=ax.transAxes,
                               facecolor='white', edgecolor='none', zorder=3))
        ax.text(0.906, 0.243, 'N =', transform=ax.transAxes, family=SERIF,
                fontstyle='italic', fontsize=19, ha='center', va='center', zorder=4)
        for j, (lab, key) in enumerate(zip(n_values, n_keys)):
            ax.text(0.9565, 0.386 - j * 0.0548, lab, transform=ax.transAxes, family=SERIF,
                    fontweight='bold', fontsize=18, color=band_colors[key],
                    ha='center', va='center', zorder=4)

fig.savefig('out.png', dpi=100)
